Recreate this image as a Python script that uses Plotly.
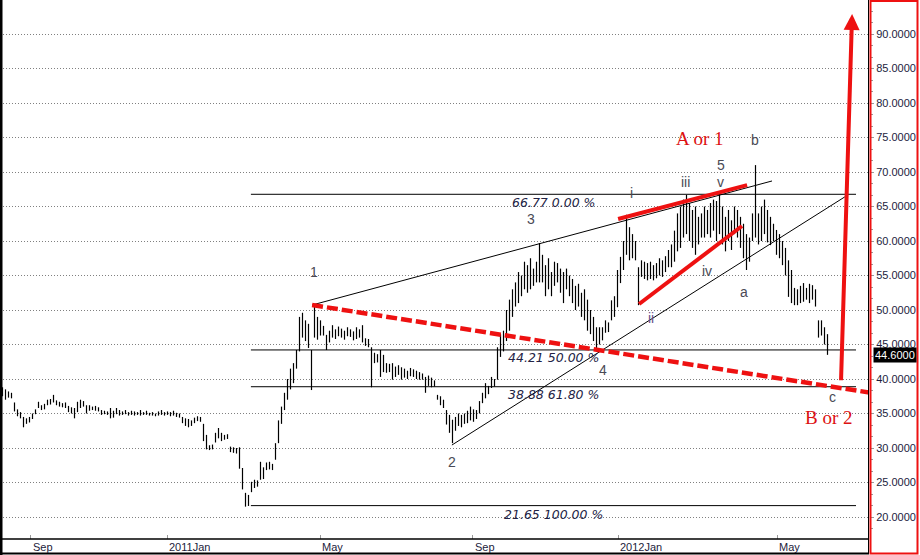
import plotly.graph_objects as go

# ---------------- data ----------------
HIGH = [
    38.8, 38.5, 38.2, 38.0, 36.6, 35.6, 35.2, 34.5, 34.3, 34.5,
    35.0, 35.6, 36.7, 36.2, 36.4, 37.0, 37.1, 37.7, 36.9, 36.7,
    36.5, 36.6, 36.1, 35.9, 35.8, 36.7, 37.0, 36.8, 36.2, 36.2,
    36.0, 36.1, 35.9, 35.5, 35.4, 35.3, 35.8, 35.4, 35.8, 35.5,
    35.3, 35.5, 35.2, 35.4, 35.3, 35.2, 35.5, 35.2, 35.4, 35.1,
    35.2, 35.0, 35.3, 35.5, 35.2, 35.3, 35.2, 35.4, 35.1, 35.0,
    34.5, 34.3, 34.2, 34.0, 34.4, 34.6, 34.5, 33.5, 31.9, 30.4,
    30.5, 32.2, 32.9, 32.2, 31.9, 32.0, 30.2, 30.1, 30.0, 30.1,
    27.1, 23.5, 23.2, 25.1, 25.4, 25.3, 28.0, 27.2, 27.9, 28.0,
    27.7, 30.7, 34.0, 36.0, 38.0, 40.0, 41.5, 42.3, 44.2, 49.0,
    49.6, 48.5, 48.0, 44.2, 50.7, 49.0, 48.5, 47.7, 46.4, 47.0,
    47.8, 47.2, 47.6, 47.3, 47.0, 47.5, 47.2, 46.9, 47.5, 47.2,
    47.8, 45.9, 45.8, 44.6, 43.8, 43.6, 44.2, 43.5, 42.3, 42.2,
    42.3, 41.8, 42.0, 41.7, 41.5, 41.2, 41.6, 41.4, 41.2, 41.0,
    40.8, 40.3, 40.5, 40.2, 39.8, 37.7, 37.5, 37.0, 35.5, 34.8,
    34.1, 34.5, 35.0, 34.8, 35.0, 35.4, 36.0, 35.6, 35.5, 36.8,
    38.0, 39.4, 39.0, 40.3, 40.0, 44.6, 46.5, 47.0, 50.0, 51.5,
    53.0, 54.0, 55.5, 55.0, 57.0, 56.5, 57.5, 56.0, 57.0, 59.7,
    58.0, 56.5, 57.5, 55.5, 57.0, 56.8, 56.0, 55.5, 56.0, 55.0,
    54.5, 53.5, 53.8, 52.5, 53.0, 51.5, 50.0, 49.0, 47.5, 47.5,
    47.5, 48.5, 48.2, 51.4, 52.0, 55.8, 57.7, 60.0, 63.8, 62.0,
    61.0, 60.0, 56.2, 57.2, 57.0, 56.8, 57.0, 56.5, 56.8, 57.5,
    57.2, 57.8, 58.7, 59.5, 61.5, 64.0, 65.0, 66.0, 66.7, 65.5,
    64.5, 65.0, 63.5, 64.0, 65.0, 64.5, 65.5, 66.0, 65.8, 66.8,
    65.0, 63.5, 64.5, 63.0, 65.0, 64.5, 63.5, 62.5, 61.0, 60.5,
    64.0, 71.0, 64.0, 65.0, 66.0, 64.5, 63.5, 62.5, 61.6, 61.0,
    60.0, 59.0, 57.2, 55.8, 53.2, 53.0, 53.5, 53.9, 53.2, 53.8,
    53.6, 53.0, 48.5, 48.5, 47.5, 46.5,
]
LOW = [
    37.5, 37.0, 37.3, 37.2, 35.3, 34.6, 34.3, 33.0, 33.5, 33.7,
    34.2, 34.9, 35.8, 35.5, 35.6, 36.2, 36.3, 36.6, 36.2, 36.0,
    35.9, 35.8, 35.2, 35.0, 34.3, 35.2, 35.8, 36.0, 35.0, 35.4,
    35.5, 35.4, 35.3, 34.8, 34.9, 34.8, 34.3, 34.4, 34.9, 34.7,
    34.8, 34.9, 34.7, 34.8, 34.7, 34.8, 34.7, 34.8, 34.8, 34.7,
    34.7, 34.6, 34.7, 34.8, 34.7, 34.8, 34.6, 34.7, 34.5, 34.4,
    33.6, 33.2, 33.0, 33.2, 33.6, 33.9, 33.8, 31.0, 29.8, 29.7,
    29.8, 30.8, 31.4, 31.0, 31.2, 31.3, 29.4, 29.3, 29.2, 27.0,
    24.0, 21.5, 21.6, 23.6, 24.2, 24.4, 25.4, 25.5, 26.8, 26.9,
    26.8, 28.3, 30.7, 33.5, 35.5, 37.0, 38.5, 39.4, 41.5, 44.0,
    46.0, 45.5, 44.5, 38.4, 46.0, 45.7, 46.3, 46.3, 44.2, 45.3,
    46.0, 45.8, 46.2, 46.0, 45.7, 46.2, 46.1, 45.6, 45.8, 46.0,
    45.3, 44.8, 44.6, 38.8, 42.3, 42.4, 40.3, 41.0, 40.9, 41.0,
    39.9, 40.3, 40.6, 39.9, 40.2, 40.0, 40.4, 40.3, 40.0, 39.9,
    39.9, 38.0, 39.0, 38.8, 38.9, 37.0, 36.2, 35.8, 33.4, 32.2,
    30.7, 32.5, 33.2, 33.0, 33.5, 33.6, 34.0, 33.8, 34.2, 35.0,
    36.5, 37.2, 37.8, 38.7, 38.9, 39.9, 43.2, 44.0, 45.5, 47.0,
    49.0, 50.5, 51.0, 52.0, 53.0, 52.5, 53.0, 53.5, 54.0, 54.0,
    54.0, 52.0, 53.0, 52.0, 53.5, 54.0, 52.5, 51.0, 53.0, 52.0,
    51.0, 50.0, 50.5, 49.0, 48.5, 47.0, 46.5, 45.5, 44.2, 45.0,
    45.6, 46.7, 46.8, 48.5, 49.0, 50.4, 53.9, 55.8, 58.0, 57.2,
    57.5, 57.2, 50.7, 54.8, 54.5, 54.3, 54.5, 54.3, 54.6, 55.0,
    54.8, 55.5, 56.2, 56.2, 57.0, 58.5, 59.0, 60.5, 61.0, 60.0,
    59.0, 58.0, 59.5, 60.5, 60.5, 61.0, 60.5, 61.5, 60.0, 61.0,
    59.5, 58.5, 60.0, 58.7, 61.0, 60.5, 59.0, 57.5, 55.8, 57.0,
    60.0, 60.5, 59.5, 60.0, 61.0, 59.8, 59.4, 60.0, 58.0, 57.5,
    56.5, 55.0, 51.9, 51.0, 50.7, 50.7, 51.0, 51.2, 51.5, 51.0,
    51.5, 50.5, 46.0, 46.3, 45.0, 43.5,
]
LAST_PRICE = 44.6

TICK_POS = [9.4, 54.9, 105.9, 156.7, 205.3, 258.3]
TICK_TEXT = ["Sep", "2011Jan", "May", "Sep", "2012Jan", "May"]

FIB_LEVELS = [66.77, 44.21, 38.88, 21.65]
FIB_PCT = ["0.00", "50.00", "61.80", "100.00"]
FIB_X = [82.8, 284.5]
FIB_LABEL_X = 183.7
FIB_LABEL_Y = [65.6, 43.1, 37.7, 20.4]

# trend / wave lines: (bar index, price)
UPPER_LINE = [(103.2, 50.72), (256.5, 68.7)]
LOWER_LINE = [(149.8, 30.43), (280.8, 66.4)]
RED_TOP = [(205.2, 63.19), (248.2, 68.1)]
RED_BOTTOM = [(212.2, 50.87), (246.5, 62.17)]
RED_DASH = [(103.2, 50.72), (289.5, 38.0)]
ARROW = [(279.5, 39.6), (283.2, 92.9)]

WAVE_LABELS = [
    ("1", 103.8, 55.5), ("2", 149.8, 28.0), ("3", 176.2, 63.2),
    ("4", 200.0, 41.3), ("5", 239.5, 71.0), ("i", 209.8, 67.0),
    ("ii", 216.2, 48.8), ("iii", 227.5, 68.5), ("iv", 234.8, 55.6),
    ("v", 239.2, 68.5), ("a", 247.2, 52.6), ("b", 250.8, 74.6),
    ("c", 276.5, 37.4),
]
BIG_LABELS = [("A or 1", 232.5, 74.9), ("B or 2", 275.5, 34.35)]

# ---------------- figure ----------------
RED = "#ee1111"
TXT = "#1c1c3c"

xs, ys = [], []
for i, (h, l) in enumerate(zip(HIGH, LOW)):
    xs += [i, i, None]
    ys += [l, h, None]

fig = go.Figure()
fig.add_trace(go.Scatter(x=xs, y=ys, mode="lines",
                         line=dict(color="#000000", width=1.2),
                         hoverinfo="skip", showlegend=False))

shapes = []
for lv in FIB_LEVELS:
    shapes.append(dict(type="line", xref="x", yref="y", x0=FIB_X[0], x1=FIB_X[1],
                       y0=lv, y1=lv, line=dict(color="#000000", width=1)))
for seg, col, w, dash in [(UPPER_LINE, "#000000", 1, "solid"),
                          (LOWER_LINE, "#000000", 1, "solid"),
                          (RED_TOP, RED, 4, "solid"),
                          (RED_BOTTOM, RED, 4, "solid"),
                          (RED_DASH, RED, 4.5, "11px,4px")]:
    (x0, y0), (x1, y1) = seg
    shapes.append(dict(type="line", xref="x", yref="y", x0=x0, y0=y0, x1=x1, y1=y1,
                       line=dict(color=col, width=w, dash=dash)))

# frame
H = 539.0
W = 869.0
def px(x):
    return x / W
def py(y):
    return (H - y) / H
shapes += [
    dict(type="line", xref="paper", yref="paper", x0=px(1), x1=px(1), y0=py(0), y1=py(555),
         line=dict(color="#000000", width=3)),
    dict(type="line", xref="paper", yref="paper", x0=px(0), x1=px(869), y0=py(539), y1=py(539),
         line=dict(color="#000000", width=1.5)),
    dict(type="line", xref="paper", yref="paper", x0=px(0), x1=px(869), y0=py(553.5), y1=py(553.5),
         line=dict(color="#000000", width=2)),
    dict(type="line", xref="paper", yref="paper", x0=px(868.5), x1=px(868.5), y0=py(0), y1=py(554),
         line=dict(color="#000000", width=1)),
    dict(type="rect", xref="paper", yref="paper", x0=px(870.5), x1=px(917.5), y0=py(553.5), y1=py(1),
         line=dict(color=RED, width=2)),
]

ann = []
for t, x in zip(TICK_TEXT, TICK_POS):
    ann.append(dict(text=t, x=x, xref="x", y=py(546.5), yref="paper", showarrow=False,
                    xanchor="left", yanchor="middle", xshift=0,
                    font=dict(family="Liberation Sans, Arial", size=11, color=TXT)))
for lv, pc, ly in zip(FIB_LEVELS, FIB_PCT, FIB_LABEL_Y):
    ann.append(dict(text=f"<i>{lv:.2f} {pc} %</i>", x=FIB_LABEL_X, y=ly, xref="x", yref="y",
                    showarrow=False, xanchor="center", yanchor="middle",
                    font=dict(family="DejaVu Sans", size=12.5, color="#222244")))
for t, x, y in WAVE_LABELS:
    col = "#6a4f8c" if t in ("ii",) else "#4a4a55"
    ann.append(dict(text=t, x=x, y=y, xref="x", yref="y", showarrow=False,
                    xanchor="center", yanchor="middle",
                    font=dict(family="Liberation Sans, Arial", size=14, color=col)))
for t, x, y in BIG_LABELS:
    ann.append(dict(text=t, x=x, y=y, xref="x", yref="y", showarrow=False,
                    xanchor="center", yanchor="middle",
                    font=dict(family="Liberation Serif, Times New Roman", size=19, color="#dd1111")))
(ax0, ay0), (ax1, ay1) = ARROW
ann.append(dict(x=ax1, y=ay1, ax=ax0, ay=ay0, xref="x", yref="y", axref="x", ayref="y",
                text="", showarrow=True, arrowhead=2, arrowsize=0.8, arrowwidth=4,
                arrowcolor=RED, standoff=0))
ann.append(dict(text=f"{LAST_PRICE:.4f}", x=px(873), xref="paper", y=LAST_PRICE, yref="y",
                showarrow=False, xanchor="left", yanchor="top", bgcolor="#000000",
                borderpad=1, font=dict(family="Liberation Sans, Arial", size=11, color="#ffffff")))

fig.update_layout(
    width=920, height=555,
    margin=dict(l=0, r=51, t=0, b=16),
    paper_bgcolor="#ffffff", plot_bgcolor="#ffffff",
    showlegend=False,
    shapes=shapes, annotations=ann,
    xaxis=dict(range=[-2.5 / 3, (869 - 2.5) / 3], showgrid=False, zeroline=False,
               tickmode="array", tickvals=TICK_POS, showticklabels=False,
               ticks="inside", ticklen=4, tickcolor="#999999", showline=False),
    yaxis=dict(range=[16.812, 94.928], side="right", tickmode="linear", tick0=20, dtick=5,
               tickformat=".4f", ticks="outside", ticklen=4, tickcolor="#999999",
               showgrid=True, gridcolor="#808080", griddash="1px,2px", gridwidth=1,
               zeroline=False, showline=False,
               tickfont=dict(family="Liberation Sans, Arial", size=11, color=TXT),
               minor=dict(tick0=20, dtick=5 / 3, ticks="outside", ticklen=3,
                          tickcolor="#999999", showgrid=False)),
)

fig.write_html("out.html")
